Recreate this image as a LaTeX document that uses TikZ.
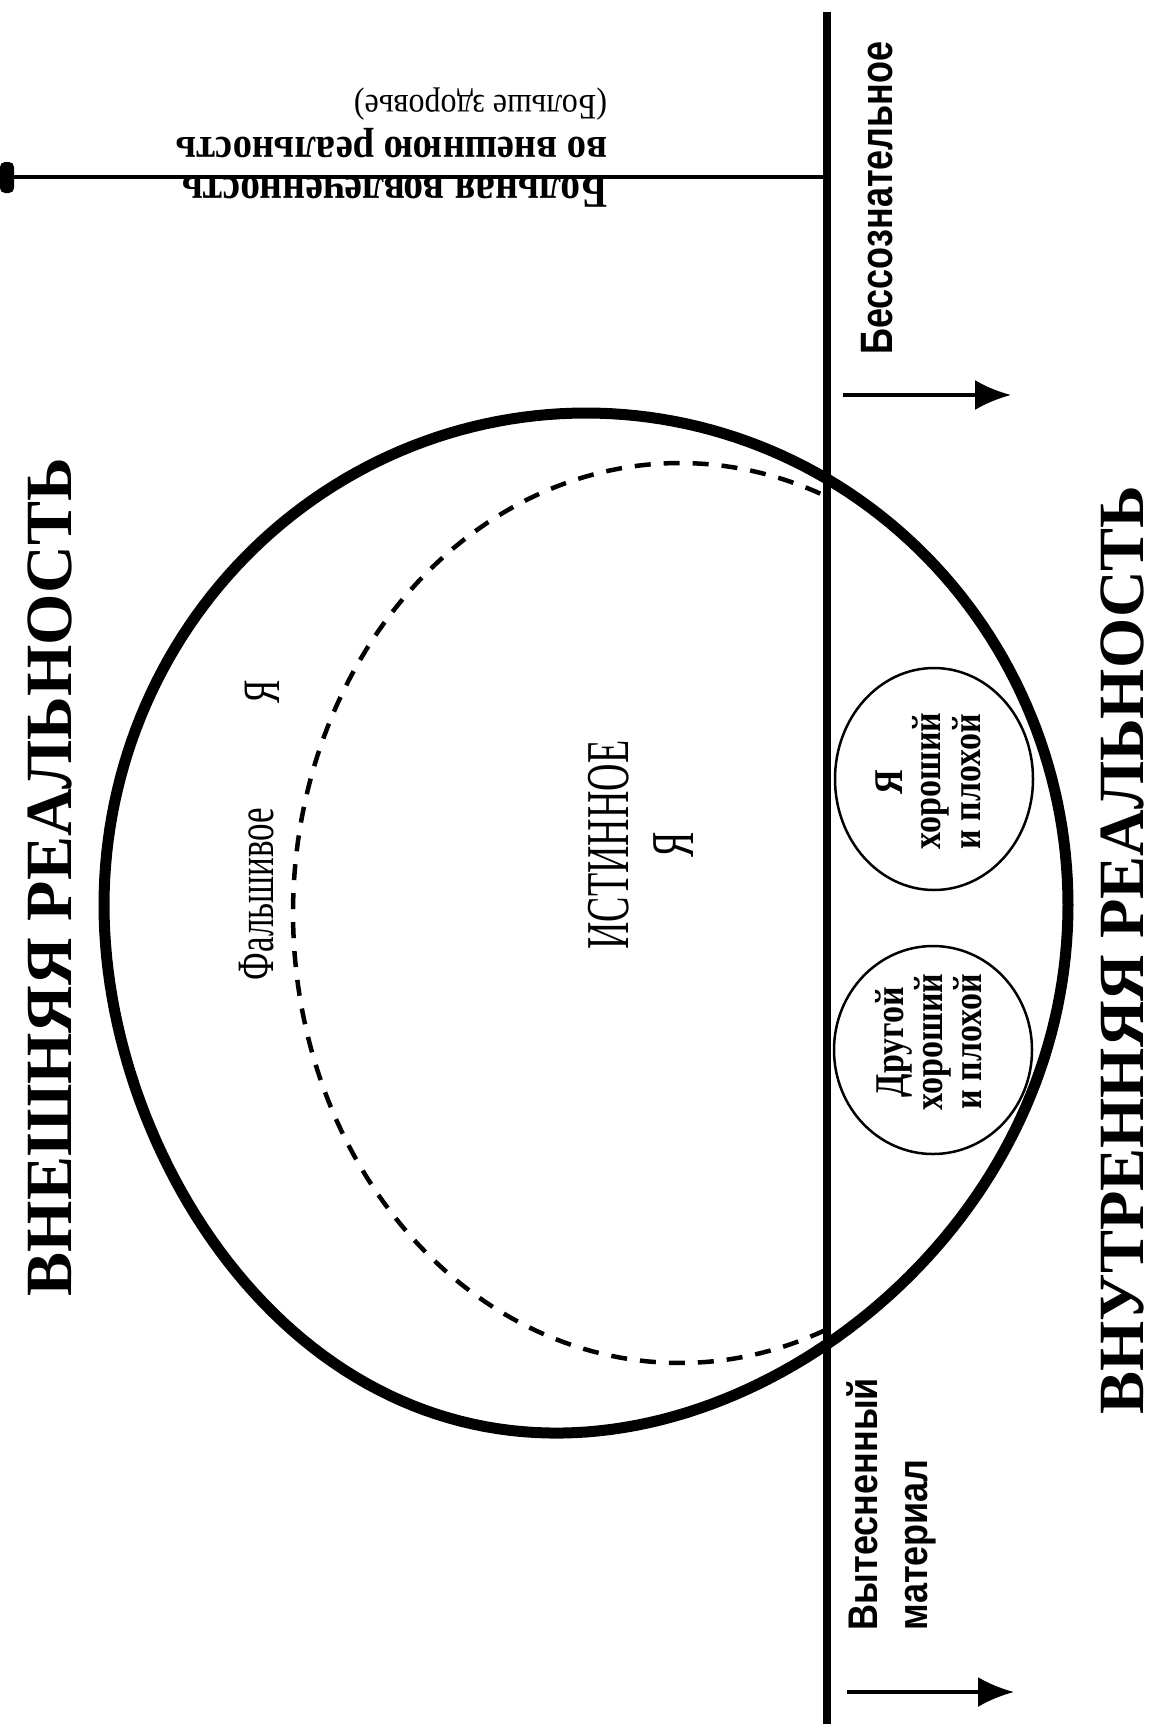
\documentclass[tikz,border=0pt]{standalone}
\usepackage{fontspec}
\setmainfont{Liberation Serif}
\setsansfont{Liberation Sans}
\usetikzlibrary{arrows.meta}

% stretch a label across its lines (glyph height direction)
\newcommand{\tallbox}[2]{\scalebox{1}[#1]{#2}}

\begin{document}
\begin{tikzpicture}[x=1pt,y=-1pt,
  lbl/.style={inner sep=0pt, outer sep=0pt},
  upword/.style={lbl, rotate=90},
  headword/.style={upword, anchor=base, font=\fontsize{64}{68}\selectfont\bfseries},
  sidenote/.style={upword, anchor=base west, font=\sffamily\bfseries\fontsize{36}{40}\selectfont},
  selfword/.style={upword, anchor=base, font=\fontsize{38}{42}\selectfont},
  falseword/.style={upword, font=\fontsize{35}{40}\selectfont},
  partword/.style={upword, anchor=base, font=\fontsize{34}{38}\selectfont\bfseries},
  turned/.style={lbl, rotate=180, anchor=base west},
  bigring/.style={line width=11pt, line join=round},
  smallring/.style={line width=2.5pt},
  falsering/.style={line width=4.5pt, dash pattern=on 16pt off 13pt},
  divider/.style={line width=8.5pt},
  pointer/.style={line width=3.5pt, -{Latex[length=36pt,width=30pt]}}
]
\useasboundingbox (0,0) rectangle (1154,1724);

% divider between outer and inner reality
\coordinate (vtop) at (827,12);
\coordinate (vbot) at (827,1724);
\draw[divider] (vtop) -- (vbot);

% bar out to the left
\coordinate (hleft) at (8,177);
\coordinate (hjoin) at (827,177);
\draw[line width=4pt] (hleft) -- (hjoin);
\fill[rounded corners=5pt] (0,162) rectangle (14,193);

% self circle (slightly fuller towards the lower left)
\draw[bigring] plot[domain=0:360, samples=241, variable=\t]
  ({586+482*cos(\t)}, {905+492*sin(\t)+35*(sin(\t)>0)*sin(\t)*sin(\t)*(1-cos(\t))}) -- cycle;
% false-self boundary
\draw[falsering] plot[domain=68:292, samples=160, variable=\t]
  ({680+387*cos(\t)}, {913+450*sin(\t)});

% inner objects
\draw[smallring] (934,779) ellipse [x radius=99, y radius=111];
\draw[smallring] (933,1050) ellipse [x radius=99, y radius=104];

% arrows on the inner side
\coordinate (a1s) at (843,395);
\coordinate (a1e) at (1011,395);
\draw[pointer] (a1s) -- (a1e);
\coordinate (a2s) at (847,1692);
\coordinate (a2e) at (1014,1692);
\draw[pointer] (a2s) -- (a2e);

% headings
\node[headword, font=\fontsize{66}{70}\selectfont\bfseries] (outer) at (71,877) {ВНЕШНЯЯ РЕАЛЬНОСТЬ};
\node[headword, font=\fontsize{64.5}{68}\selectfont\bfseries] (inner) at (1143,950) {ВНУТРЕННЯЯ РЕАЛЬНОСТЬ};

% side notes
\node[sidenote, anchor=base] (uncon) at (892,198) {\tallbox{1.26}{Бессознательное}};
\node[sidenote] (rep1) at (877,1630) {\tallbox{1.15}{Вытесненный}};
\node[sidenote] (rep2) at (927,1630) {\tallbox{1.15}{материал}};

% false self
\node[falseword, anchor=base west] (false1) at (273,980) {\tallbox{1.5}{Фальшивое}};
\node[falseword, anchor=base] (false2) at (279,692) {\tallbox{1.5}{Я}};

% true self
\node[selfword] (true1) at (628,845) {\tallbox{1.6}{ИСТИННОЕ}};
\node[selfword] (true2) at (693,845) {\tallbox{1.6}{Я}};

% good and bad self
\node[partword] (me1) at (902,782) {\tallbox{1.2}{Я}};
\node[partword] (me2) at (940,781) {\tallbox{1.2}{хороший}};
\node[partword] (me3) at (980,782) {\tallbox{1.2}{и плохой}};

% good and bad other
\node[partword] (ot1) at (903,1042) {\tallbox{1.2}{Другой}};
\node[partword] (ot2) at (942,1042) {\tallbox{1.2}{хороший}};
\node[partword] (ot3) at (981,1042) {\tallbox{1.2}{и плохой}};

% upside-down note under the bar
\node[turned, font=\fontsize{32}{36}\selectfont] (sick3) at (607,95) {\tallbox{1.12}{(Больше здоровье)}};
\node[turned, font=\fontsize{38.5}{42}\selectfont\bfseries] (sick2) at (607,137) {\tallbox{1.12}{во внешнюю реальность}};
\node[turned, font=\fontsize{39.5}{42}\selectfont\bfseries] (sick1) at (607,177) {\tallbox{1.15}{Больная вовлеченность}};
\end{tikzpicture}
\end{document}
